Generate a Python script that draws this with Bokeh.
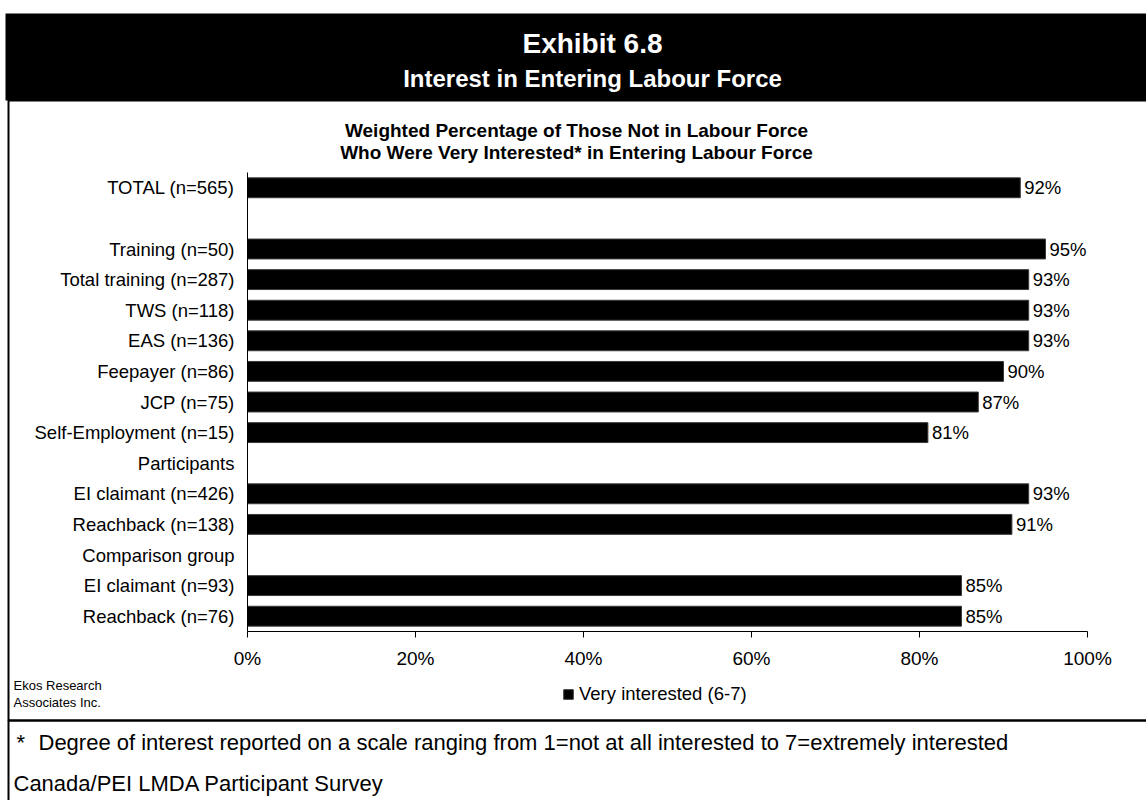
from bokeh.plotting import figure
from bokeh.models import (Range1d, ColumnDataSource, LabelSet, Label,
                          BoxAnnotation, Legend, LegendItem, FixedTicker)
from bokeh.core.properties import value
from bokeh.embed import file_html
from bokeh.resources import INLINE

# ---------------- data ----------------
categories = ["TOTAL (n=565)", " ", "Training (n=50)", "Total training (n=287)",
              "TWS (n=118)", "EAS (n=136)", "Feepayer (n=86)", "JCP (n=75)",
              "Self-Employment (n=15)", "Participants", "EI claimant (n=426)",
              "Reachback (n=138)", "Comparison group", "EI claimant (n=93)",
              "Reachback (n=76)"]
values = [92, None, 95, 93, 93, 93, 90, 87, 81, None, 93, 91, None, 85, 85]
x_ticks = [0, 20, 40, 60, 80, 100]
x_tick_labels = ["0%", "20%", "40%", "60%", "80%", "100%"]
series_name = "Very interested (6-7)"
header_title = "Exhibit 6.8"
header_subtitle = "Interest in Entering Labour Force"
chart_title = ["Weighted Percentage of Those Not in Labour Force",
               "Who Were Very Interested* in Entering Labour Force"]
source_note = ["Ekos Research", "Associates Inc."]
footnote = "Degree of interest reported on a scale ranging from 1=not at all interested to 7=extremely interested"
survey = "Canada/PEI LMDA Participant Survey"

# ---------------- layout (pixels) ----------------
W, H = 1146, 800
PL, PR, PT, PB = 247, 1087, 172, 631          # plot area edges
FONT = "Liberation Sans"

n = len(categories)
row_h = (PB - PT) / n
x_scale = (PR - PL) / 100.0
x_start = -PL / x_scale
x_end = (W - PL) / x_scale
y_bottom = (H - PT) / row_h - 0.5
y_top = -PT / row_h - 0.5

rows = list(range(n))
bar_rows = [i for i, v in zip(rows, values) if v is not None]
bar_vals = [v for v in values if v is not None]
src = ColumnDataSource(dict(row=bar_rows, val=bar_vals,
                            lab=[f"{v}%" for v in bar_vals]))

p = figure(width=W, height=H,
           x_range=Range1d(x_start, x_end),
           y_range=Range1d(y_bottom, y_top),
           output_backend="svg", toolbar_location=None,
           min_border=0, min_border_left=0, min_border_right=0,
           min_border_top=0, min_border_bottom=0)
p.title.visible = False
p.outline_line_color = None
p.xgrid.visible = False
p.ygrid.visible = False
p.background_fill_color = "white"
p.border_fill_color = "white"

bars = p.hbar(y="row", right="val", left=0, height=0.65, source=src,
              fill_color="black", line_color="#3a3a3a", line_width=1)

p.add_layout(LabelSet(x="val", y="row", text="lab", source=src, x_offset=4,
                      text_baseline="middle", text_font=value(FONT),
                      text_font_size="18.5px", text_color="black"))

# axes (drawn inside the frame at fixed locations)
xa = p.xaxis[0]
xa.fixed_location = n - 0.5
xa.bounds = (0, 100)
xa.ticker = FixedTicker(ticks=x_ticks)
xa.major_label_overrides = {t: l for t, l in zip(x_ticks, x_tick_labels)}
xa.minor_tick_line_color = None
xa.major_tick_in = 0
xa.major_tick_out = 6
xa.major_label_standoff = 10
xa.axis_line_color = "black"
xa.major_tick_line_color = "black"
xa.major_label_text_font = FONT
xa.major_label_text_font_size = "19px"
xa.major_label_text_color = "black"

ya = p.yaxis[0]
ya.fixed_location = 0
ya.bounds = (-0.5, n - 0.5)
ya.ticker = FixedTicker(ticks=rows)
ya.major_label_overrides = {i: c for i, c in zip(rows, categories)}
ya.major_tick_line_color = None
ya.minor_tick_line_color = None
ya.major_tick_out = 0
ya.major_tick_in = 0
ya.major_label_standoff = 13
ya.axis_line_color = "black"
ya.major_label_text_font = FONT
ya.major_label_text_font_size = "18.5px"
ya.major_label_text_color = "black"

# legend
legend = Legend(items=[LegendItem(label=series_name, renderers=[bars])],
                location=(562, H - 705), orientation="horizontal",
                glyph_width=12, glyph_height=12, label_standoff=5,
                label_text_font=FONT, label_text_font_size="18.5px",
                label_text_color="black",
                border_line_color=None, background_fill_alpha=0,
                padding=0, margin=0)
p.add_layout(legend, "center")


def box(left, right, top, bottom, **kw):
    # top/bottom given from the top of the picture
    p.add_layout(BoxAnnotation(left=left, right=right, top=H - top, bottom=H - bottom,
                               left_units="screen", right_units="screen",
                               top_units="screen", bottom_units="screen", **kw))


box(5, W, 13, 100, fill_color="black", fill_alpha=1, line_color=None)
box(8, W + 2, 100, 720, fill_alpha=0, line_color="black", line_alpha=1, line_width=2)
box(8, W + 2, 720, H + 2, fill_alpha=0, line_color="black", line_alpha=1, line_width=2)


def lab(text, x, y, size, bold=False, color="black", align="left"):
    p.add_layout(Label(x=x, y=H - y, x_units="screen", y_units="screen", text=text,
                       text_font=FONT, text_font_size=size,
                       text_font_style="bold" if bold else "normal",
                       text_color=color, text_align=align,
                       text_baseline="middle"))


lab(header_title, 592, 43, "28px", True, "white", "center")
lab(header_subtitle, 592, 78, "24px", True, "white", "center")
lab(chart_title[0], 576, 130, "19px", True, "black", "center")
lab(chart_title[1], 576, 152, "19px", True, "black", "center")
lab(source_note[0], 13, 685, "13px")
lab(source_note[1], 13, 702, "13px")
lab("*", 16, 742, "22px")
lab(footnote, 38, 742, "22px")
lab(survey, 13, 783, "22px")

open("out.html", "w").write(file_html(p, INLINE))
